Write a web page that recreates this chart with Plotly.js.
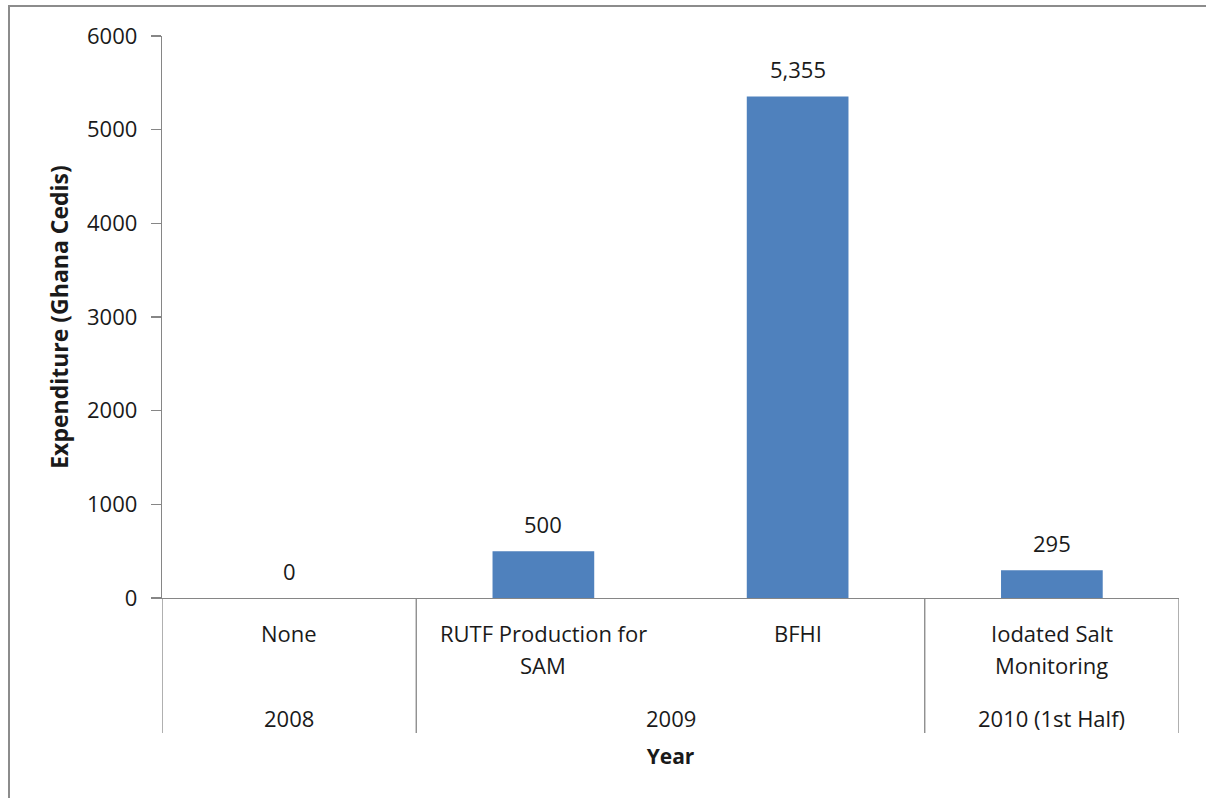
<!DOCTYPE html>
<html>
<head>
<meta charset="utf-8">
<script src="https://cdn.plot.ly/plotly-3.0.1.min.js"></script>
<style>
  html, body { margin: 0; padding: 0; background: #fff; }
  #wrap { position: relative; width: 1206px; height: 798px; overflow: hidden; }
  #frame { position: absolute; left: 8px; top: 5px; width: 1300px; height: 900px;
           border-left: 2px solid #8c8c8c; border-top: 2px solid #8c8c8c; pointer-events: none; z-index: 5; }
  #chart { position: absolute; left: 0; top: 0; width: 1206px; height: 798px; }
</style>
</head>
<body>
<div id="wrap">
  <div id="chart"></div>
  <div id="frame"></div>
</div>
<script>
// ---- data ----
const categories = [["None"], ["RUTF Production for", "SAM"], ["BFHI"], ["Iodated Salt", "Monitoring"]];
const values = [0, 500, 5355, 295];
const years = ["2008", "2009", "2010 (1st Half)"];
const yearCounts = [1, 2, 1];
const yTicks = [0, 1000, 2000, 3000, 4000, 5000, 6000];

// ---- styling ----
const FONT = "'Open Sans', 'Liberation Sans', sans-serif";
const FS = 22;
const TXT = "#1a1a1a";
const AXIS = "#868686";
const BAR = "#4F81BD";

const xIdx = values.map((_, i) => i);

const annotations = [];
// value labels above bars
values.forEach((v, i) => {
  annotations.push({
    x: i, y: v, xref: "x", yref: "y", yanchor: "bottom", xanchor: "center",
    text: v.toLocaleString("en-US"), showarrow: false, yshift: 10,
    font: { family: FONT, size: FS, color: TXT }
  });
});
// category labels (lines)
categories.forEach((lines, i) => {
  lines.forEach((ln, j) => {
    annotations.push({
      x: i, y: 0, xref: "x", yref: "paper", yanchor: "middle", xanchor: "center",
      text: ln, showarrow: false, yshift: -35 - 32 * j,
      font: { family: FONT, size: FS, color: TXT }
    });
  });
});
// year group labels + dividers
const shapes = [];
let start = 0;
const bounds = [-0.5];
years.forEach((yr, k) => {
  const n = yearCounts[k];
  const center = start + (n - 1) / 2;
  annotations.push({
    x: center, y: 0, xref: "x", yref: "paper", yanchor: "middle", xanchor: "center",
    text: yr, showarrow: false, yshift: -120,
    font: { family: FONT, size: FS, color: TXT }
  });
  start += n;
  bounds.push(start - 0.5);
});
bounds.forEach(b => {
  shapes.push({
    type: "line", xref: "x", yref: "paper", ysizemode: "pixel", yanchor: 0,
    x0: b, x1: b, y0: 0, y1: -135,
    line: { color: AXIS, width: 1.3 }
  });
});

const trace = {
  type: "bar",
  x: xIdx,
  y: values,
  width: 0.4,
  marker: { color: BAR },
  hoverinfo: "skip"
};

const layout = {
  width: 1206, height: 798,
  margin: { l: 162, r: 27, t: 36, b: 200 },
  paper_bgcolor: "#fff", plot_bgcolor: "#fff",
  showlegend: false,
  font: { family: FONT, size: FS, color: TXT },
  xaxis: {
    range: [-0.5, xIdx.length - 0.5],
    showticklabels: false, ticks: "", showgrid: false, zeroline: false,
    showline: true, linecolor: AXIS, linewidth: 1.3,
    fixedrange: true,
    title: { text: "<b>Year</b>", standoff: 151, font: { family: FONT, size: 21, color: TXT } }
  },
  yaxis: {
    range: [0, 6000], tickvals: yTicks, ticktext: yTicks.map(String),
    ticks: "outside", ticklen: 10, tickcolor: AXIS, tickwidth: 1.3,
    ticklabelstandoff: 9,
    showgrid: false, zeroline: false,
    showline: true, linecolor: AXIS, linewidth: 1.3,
    tickfont: { family: FONT, size: FS, color: TXT },
    title: { text: "<b>Expenditure (Ghana Cedis)</b>", standoff: 12, font: { family: FONT, size: 23, color: TXT } }
  },
  annotations: annotations,
  shapes: shapes
};

Plotly.newPlot("chart", [trace], layout, { displayModeBar: false, staticPlot: true });
</script>
</body>
</html>
